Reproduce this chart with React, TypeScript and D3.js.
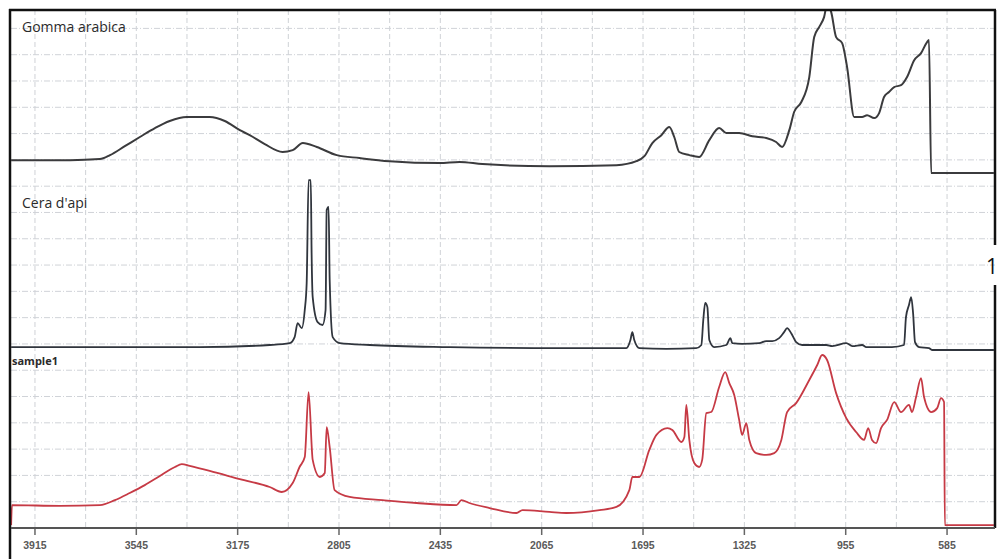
import React, { useEffect, useRef } from "react";
import * as d3 from "d3";

const width = 998;
const height = 559;
const margin = { top: 10, right: 3, bottom: 31, left: 11 };

// wavenumber axis (cm-1), labelled ticks and grid
const tickValues = [3915, 3545, 3175, 2805, 2435, 2065, 1695, 1325, 955, 585];
const gridWavenumbers = [3915, 3730, 3545, 3360, 3175, 2990, 2805, 2620, 2435, 2250, 2065, 1880, 1695, 1510, 1325, 1140, 955, 770, 585];
const gridLevels = [1, 2, 3, 4, 5, 6, 7, 8, 9, 10, 11, 12, 13, 14, 15, 16, 17, 18, 19];

const panelLabels = ["Gomma arabica", "Cera d'api", "sample1"];
const sideLabel = "1";

// [wavenumber, stacked absorbance]
const gommaArabica: [number, number][] = [
  [4002, 13.99], [3897, 13.99], [3787, 13.99], [3678, 14.03], [3641, 14.18], [3587, 14.52],
  [3532, 14.87], [3477, 15.21], [3423, 15.48], [3361, 15.63], [3277, 15.63], [3222, 15.48],
  [3167, 15.13], [3131, 14.94], [3076, 14.6], [3011, 14.3], [2974, 14.37], [2937, 14.64],
  [2886, 14.49], [2813, 14.18], [2730, 14.07], [2620, 13.95], [2438, 13.88], [2365, 13.92],
  [2281, 13.84], [2037, 13.76], [1792, 13.8], [1719, 13.95], [1690, 14.14], [1661, 14.64],
  [1628, 14.94], [1599, 15.25], [1581, 14.87], [1563, 14.3], [1526, 14.18], [1490, 14.11],
  [1453, 14.75], [1417, 15.21], [1391, 15.02], [1344, 15.02], [1296, 14.9], [1245, 14.83],
  [1209, 14.68], [1187, 14.49], [1161, 15.13], [1143, 15.83], [1117, 16.2], [1088, 17.15],
  [1070, 18.67], [1052, 19.05], [1034, 19.43], [1023, 19.89], [1008, 19.62], [990, 18.67],
  [968, 18.44], [950, 17.53], [924, 15.63], [895, 15.63], [877, 15.7], [851, 15.59],
  [833, 15.78], [815, 16.39], [797, 16.58], [778, 16.77], [753, 16.84], [731, 17.15],
  [705, 17.79], [680, 18.06], [658, 18.48], [651, 18.56], [643, 13.5], [414, 13.5],
];

const ceraApi: [number, number][] = [
  [4002, 6.88], [3313, 6.88], [3058, 6.96], [2985, 7.03], [2967, 7.26], [2956, 7.79],
  [2941, 7.6], [2930, 8.29], [2923, 9.32], [2916, 13.23], [2908, 13.23], [2905, 10.46],
  [2901, 8.78], [2883, 7.83], [2865, 7.72], [2854, 8.29], [2850, 12.09], [2843, 12.21],
  [2839, 9.43], [2828, 7.26], [2802, 7.03], [2693, 6.96], [2401, 6.88], [2000, 6.84],
  [1756, 6.84], [1741, 7.15], [1734, 7.45], [1727, 7.15], [1708, 6.84], [1610, 6.81],
  [1501, 6.84], [1482, 6.96], [1475, 7.91], [1468, 8.56], [1460, 8.4], [1453, 7.15],
  [1435, 6.88], [1391, 6.96], [1376, 7.22], [1369, 7.03], [1333, 7.0], [1271, 7.03],
  [1245, 7.11], [1223, 7.11], [1198, 7.22], [1180, 7.45], [1169, 7.6], [1154, 7.41],
  [1136, 7.07], [1114, 6.96], [1026, 6.96], [1004, 6.92], [953, 7.03], [931, 6.92],
  [895, 6.96], [880, 6.88], [786, 6.88], [742, 6.96], [735, 8.02], [724, 8.48],
  [716, 8.78], [709, 8.17], [702, 7.07], [687, 6.88], [651, 6.84], [640, 6.77], [414, 6.77],
];

const sample1: [number, number][] = [
  [4002, 0.11], [3999, 0.87], [3824, 0.84], [3678, 0.87], [3623, 1.06], [3569, 1.33],
  [3514, 1.63], [3459, 1.98], [3404, 2.32], [3379, 2.43], [3350, 2.36], [3277, 2.17],
  [3167, 1.86], [3058, 1.56], [3014, 1.37], [2974, 1.71], [2949, 2.32], [2930, 2.7],
  [2916, 5.17], [2901, 2.59], [2875, 1.94], [2857, 2.09], [2850, 3.84], [2839, 3.08],
  [2821, 1.44], [2766, 1.18], [2646, 1.06], [2522, 0.95], [2376, 0.87], [2358, 1.06],
  [2329, 0.95], [2255, 0.76], [2157, 0.57], [2135, 0.68], [2037, 0.61], [1975, 0.57],
  [1854, 0.68], [1792, 0.8], [1745, 1.44], [1734, 1.94], [1708, 1.94], [1672, 2.97],
  [1646, 3.54], [1606, 3.8], [1588, 3.73], [1555, 3.27], [1544, 3.46], [1537, 4.68],
  [1526, 3.35], [1508, 2.47], [1490, 2.32], [1479, 2.59], [1464, 4.37], [1446, 4.41],
  [1417, 5.36], [1395, 5.93], [1380, 5.51], [1362, 5.06], [1344, 4.11], [1333, 3.54],
  [1318, 3.99], [1307, 3.35], [1282, 2.85], [1245, 2.78], [1216, 2.85], [1190, 3.35],
  [1169, 4.41], [1136, 4.75], [1088, 5.63], [1059, 6.2], [1041, 6.58], [1023, 6.39],
  [990, 5.13], [953, 4.18], [917, 3.65], [888, 3.35], [873, 3.8], [859, 3.35],
  [844, 3.23], [826, 3.8], [804, 4.11], [778, 4.79], [753, 4.41], [724, 4.68],
  [713, 4.41], [698, 4.98], [680, 5.7], [669, 4.98], [643, 4.41], [621, 4.56],
  [607, 4.94], [596, 4.79], [593, 0.11], [414, 0.11],
];

const series = [
  { name: panelLabels[0], data: gommaArabica, color: "#3b3b3d", width: 2 },
  { name: panelLabels[1], data: ceraApi, color: "#30353d", width: 1.8 },
  { name: panelLabels[2], data: sample1, color: "#c63a45", width: 1.8 },
];

const App = () => {
  const ref = useRef<SVGSVGElement>(null);

  useEffect(() => {
    const svg = d3.select(ref.current);
    svg.selectAll("*").remove();

    const left = margin.left;
    const right = width - margin.right;
    const top = margin.top;
    const bottom = height - margin.bottom;

    const x = d3.scaleLinear().domain([4002.5, 413.6]).range([left, right - 1]);
    const y = d3.scaleLinear().domain([0, 19.7]).range([bottom, top]);

    svg.append("rect").attr("width", width).attr("height", height).attr("fill", "#ffffff");

    svg
      .append("defs")
      .append("clipPath")
      .attr("id", "plot-clip")
      .append("rect")
      .attr("x", left)
      .attr("y", top)
      .attr("width", right - left)
      .attr("height", bottom - top);

    // grid
    const grid = svg.append("g");
    grid
      .selectAll("line.v")
      .data(gridWavenumbers)
      .join("line")
      .attr("class", "v")
      .attr("x1", (d) => x(d))
      .attr("x2", (d) => x(d))
      .attr("y1", top)
      .attr("y2", bottom)
      .attr("stroke", "#cfd2d6")
      .attr("stroke-width", 1)
      .attr("stroke-dasharray", "5,3");
    grid
      .selectAll("line.h")
      .data(gridLevels)
      .join("line")
      .attr("class", "h")
      .attr("x1", left)
      .attr("x2", right)
      .attr("y1", (d) => y(d))
      .attr("y2", (d) => y(d))
      .attr("stroke", "#d0d3d8")
      .attr("stroke-width", 1)
      .attr("stroke-dasharray", "6,2,1,2");

    // spectra
    const line = d3
      .line<[number, number]>()
      .x((d) => x(d[0]))
      .y((d) => y(d[1]))
      .curve(d3.curveMonotoneX);

    svg
      .append("g")
      .attr("clip-path", "url(#plot-clip)")
      .selectAll("path")
      .data(series)
      .join("path")
      .attr("d", (d) => line(d.data))
      .attr("fill", "none")
      .attr("stroke", (d) => d.color)
      .attr("stroke-width", (d) => d.width)
      .attr("stroke-linejoin", "round");

    // frame
    svg.append("line").attr("x1", left - 1).attr("x2", left - 1).attr("y1", top - 1).attr("y2", height)
      .attr("stroke", "#111").attr("stroke-width", 2.5);
    svg.append("line").attr("x1", left - 2).attr("x2", right + 1).attr("y1", top).attr("y2", top)
      .attr("stroke", "#111").attr("stroke-width", 2.5);
    svg.append("line").attr("x1", right).attr("x2", right).attr("y1", top).attr("y2", 245)
      .attr("stroke", "#111").attr("stroke-width", 2.5);
    svg.append("line").attr("x1", right).attr("x2", right).attr("y1", 285).attr("y2", bottom)
      .attr("stroke", "#111").attr("stroke-width", 2.5);

    // x axis
    const axis = svg.append("g").attr("transform", `translate(0, ${bottom})`);
    axis.append("line").attr("x1", left).attr("x2", right).attr("y1", 0).attr("y2", 0)
      .attr("stroke", "#555").attr("stroke-width", 2);
    axis
      .selectAll("line.tick")
      .data(tickValues)
      .join("line")
      .attr("class", "tick")
      .attr("x1", (d) => x(d))
      .attr("x2", (d) => x(d))
      .attr("y1", 1)
      .attr("y2", 7)
      .attr("stroke", "#666")
      .attr("stroke-width", 1.5);
    axis
      .selectAll("text")
      .data(tickValues)
      .join("text")
      .attr("x", (d) => x(d))
      .attr("y", 21)
      .attr("text-anchor", "middle")
      .attr("font-family", "'Liberation Sans', Arial, sans-serif")
      .attr("font-size", 10.5)
      .attr("font-weight", "bold")
      .attr("fill", "#5a5a5a")
      .text((d) => `${d}`);

    // panel labels
    const labelPos = [
      { x: 22, y: 32, size: 14, weight: "normal" },
      { x: 22, y: 208, size: 14, weight: "normal" },
      { x: 12, y: 365, size: 11, weight: "bold" },
    ];
    svg
      .append("g")
      .selectAll("text")
      .data(panelLabels)
      .join("text")
      .attr("x", (d, i) => labelPos[i].x)
      .attr("y", (d, i) => labelPos[i].y)
      .attr("font-family", "'Open Sans', sans-serif")
      .attr("font-size", (d, i) => labelPos[i].size)
      .attr("font-weight", (d, i) => labelPos[i].weight)
      .attr("fill", "#2a2a2a")
      .text((d) => d);

    svg
      .append("text")
      .attr("x", 992)
      .attr("y", 274)
      .attr("text-anchor", "middle")
      .attr("font-family", "'Open Sans', sans-serif")
      .attr("font-size", 21)
      .attr("fill", "#111")
      .text(sideLabel);
  }, []);

  return (
    <svg
      ref={ref}
      width={width}
      height={height}
      style={{ position: "absolute", left: 0, top: 0, display: "block" }}
    />
  );
};

export default App;
